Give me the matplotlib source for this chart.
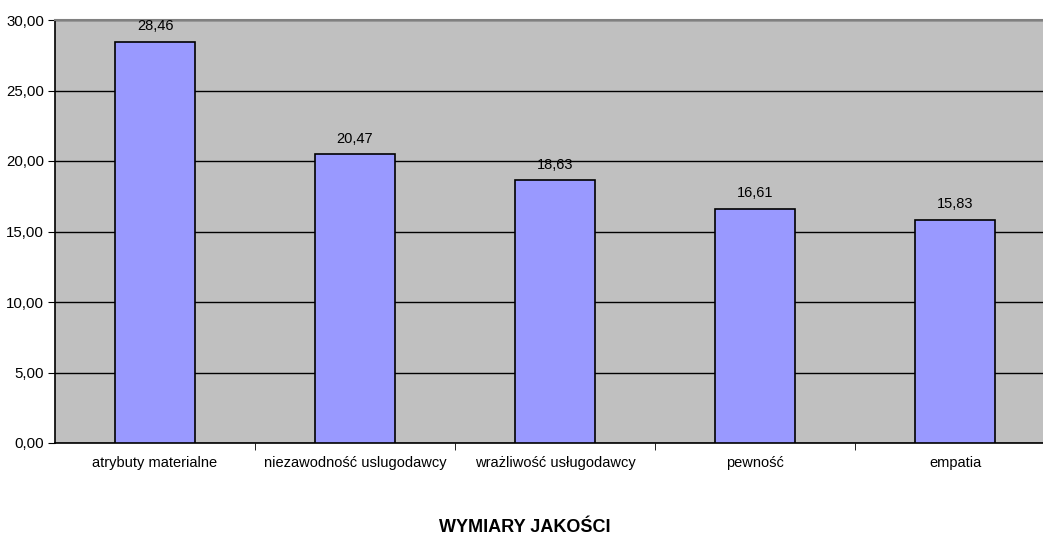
import numpy as np
import matplotlib.pyplot as plt
from matplotlib.ticker import FixedLocator, FuncFormatter

plt.rcParams['font.family'] = ['Liberation Sans', 'DejaVu Sans']

# dane
kategorie = ['atrybuty materialne', 'niezawodność uslugodawcy',
             'wrażliwość usługodawcy', 'pewność', 'empatia']
wartosci = [28.46, 20.47, 18.63, 16.61, 15.83]

fig = plt.figure(figsize=(10.43, 5.34), dpi=100)
# obszar wykresu wychodzi nieco poza prawą krawędź, jak w oryginale
ax = fig.add_axes([55 / 1043, 1 - 443 / 534, 1000 / 1043, 423 / 534])
ax.set_facecolor('#C0C0C0')

x = np.arange(len(kategorie))
bars = ax.bar(x, wartosci, width=0.4, color='#9999FF', edgecolor='black',
              linewidth=1.2, zorder=3)

for b, v in zip(bars, wartosci):
    ax.annotate(f'{v:.2f}'.replace('.', ','), (b.get_x() + b.get_width() / 2, v),
                xytext=(0, 6), textcoords='offset points',
                ha='center', va='bottom', fontsize=10.5)

ax.set_xlim(-0.5, len(kategorie) - 0.5)
ax.set_ylim(0, 30)
ax.set_yticks(np.arange(0, 30.01, 5))
ax.yaxis.set_major_formatter(FuncFormatter(lambda v, p: f'{v:.2f}'.replace('.', ',')))
ax.grid(axis='y', color='black', linewidth=1, zorder=1)

ax.set_xticks(x)
ax.set_xticklabels(kategorie, fontsize=10.5)
ax.xaxis.set_minor_locator(FixedLocator(np.arange(0.5, len(kategorie) - 0.5, 1)))
ax.tick_params(axis='x', which='major', length=0, pad=9)
ax.tick_params(axis='x', which='minor', length=5, direction='out', color='black')
ax.tick_params(axis='y', length=5, direction='out', labelsize=10.8, pad=3)

ax.spines['top'].set_color('#808080')
ax.spines['top'].set_linewidth(1.5)
ax.spines['right'].set_visible(False)
ax.spines['left'].set_linewidth(1.2)
ax.spines['bottom'].set_linewidth(1.2)

fig.text(525 / 1043, 7 / 534, 'WYMIARY JAKOŚCI', ha='center',
         va='center', fontsize=13, fontweight='bold')

plt.savefig('out.png', dpi=100)
